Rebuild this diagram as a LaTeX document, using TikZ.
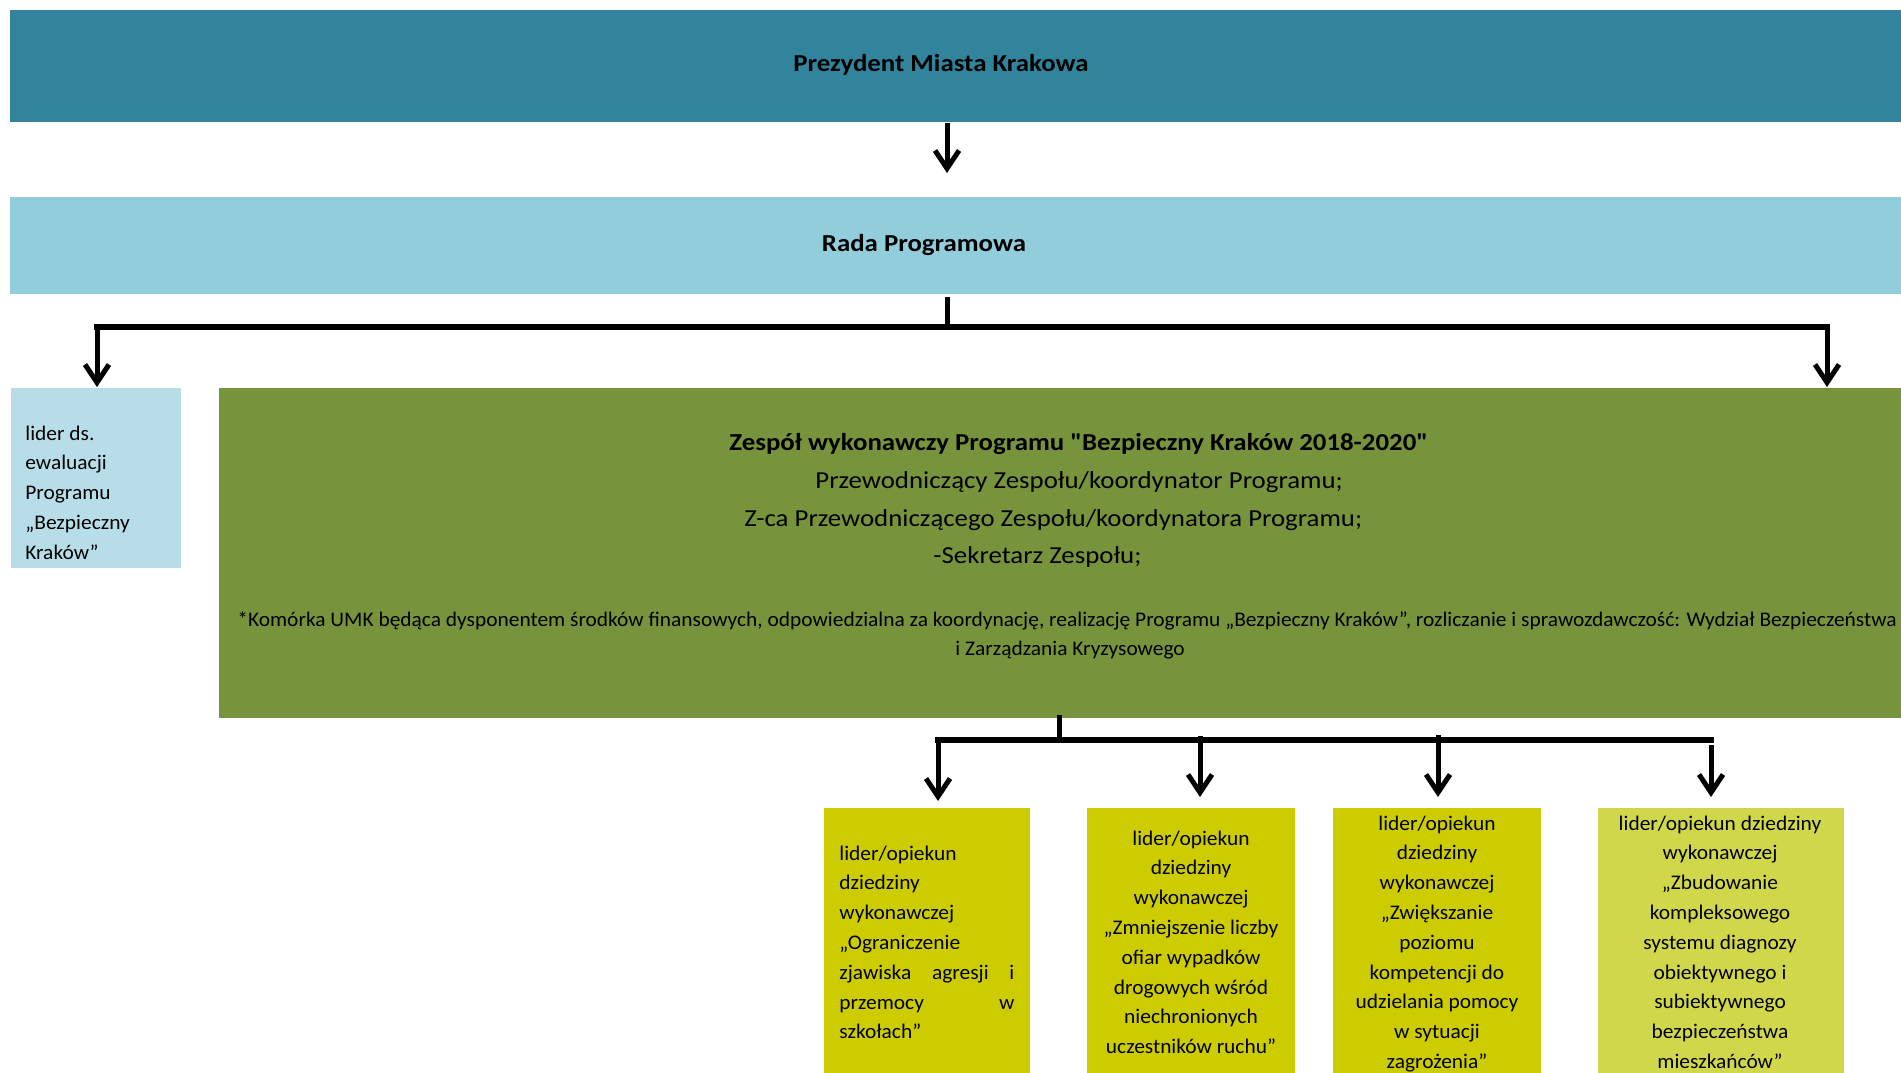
\documentclass[tikz,border=0pt]{standalone}
\usepackage{fontspec}
\setmainfont{Carlito}
\newfontfamily\bigfont[FakeStretch=1.1]{Carlito}
\newfontfamily\smallfont[FakeStretch=1.03]{Carlito}
\usetikzlibrary{arrows.meta}
\definecolor{cTop}{HTML}{31849B}
\definecolor{cRada}{HTML}{92CDDC}
\definecolor{cLider}{HTML}{B7DEE8}
\definecolor{cZesp}{HTML}{77933C}
\definecolor{cYel}{HTML}{CCCC00}
\definecolor{cYel2}{HTML}{D1D74A}
\tikzset{
  boxr/.style={rectangle, draw=none, inner sep=0pt, anchor=north west},
  txt/.style={inner sep=0pt, text=black},
  small/.style={txt, font=\smallfont\fontsize{10.4}{14.9}\selectfont},
  big/.style={txt, font=\bigfont\fontsize{12.2}{18.7}\selectfont},
  bigb/.style={txt, font=\bigfont\fontsize{12.2}{18.7}\selectfont\bfseries},
  ln/.style={line width=2.5pt, draw=black},
  busln/.style={line width=3pt, draw=black, line cap=rect},
  arr/.style={line width=2.5pt, draw=black, -{Straight Barb[length=9pt,width=12pt]}},
}
\newcommand{\boxtext}[2]{\parbox[t]{#1}{\centering #2}}
\begin{document}
\begin{tikzpicture}[x=0.5pt,y=-0.5pt]
\clip (0,0) rectangle (1901,1072);
\path[use as bounding box] (0,0) rectangle (1901,1072);
% boxes
\node[boxr, fill=cTop, minimum width=950pt, minimum height=56pt] (pres) at (10,10) {};
\node[boxr, fill=cRada, minimum width=950pt, minimum height=48.5pt] (rada) at (10,197) {};
\node[boxr, fill=cLider, minimum width=85pt, minimum height=90pt] (lider) at (11,388) {};
\node[boxr, fill=cZesp, minimum width=900pt, minimum height=165pt] (zesp) at (219,388) {};
\node[boxr, fill=cYel, minimum width=103pt, minimum height=140pt] (b1) at (824,808) {};
\node[boxr, fill=cYel, minimum width=104pt, minimum height=140pt] (b2) at (1087,808) {};
\node[boxr, fill=cYel, minimum width=104pt, minimum height=140pt] (b3) at (1333,808) {};
\node[boxr, fill=cYel2, minimum width=123pt, minimum height=140pt] (b4) at (1598,808) {};
% texts
\node[bigb, anchor=base] (tpres) at (941,71) {Prezydent Miasta Krakowa};
\node[bigb, anchor=base] (trada) at (924,251) {Rada Programowa};
\node[small, anchor=base west] (tlider) at (25,440) {\parbox[t]{80pt}{\raggedright lider ds.\\ewaluacji\\Programu\\„Bezpieczny\\Kraków”}};
\node[bigb, anchor=base west] (tz1) at (729,450.7) {Zespół wykonawczy Programu {\char34}Bezpieczny Kraków 2018-2020{\char34}};
\node[big, anchor=base west] (tz2) at (815,488.3) {Przewodniczący Zespołu/koordynator Programu;};
\node[big, anchor=base west] (tz3) at (744,526) {Z-ca Przewodniczącego Zespołu/koordynatora Programu;};
\node[big, anchor=base west] (tz4) at (933,563.3) {-Sekretarz Zespołu;};
\node[small, anchor=base west] (tz5) at (237,626) {*Komórka UMK będąca dysponentem środków finansowych, odpowiedzialna za koordynację, realizację Programu „Bezpieczny Kraków”, rozliczanie i sprawozdawczość: Wydział Bezpieczeństwa};
\node[small, anchor=base west] (tz6) at (955,655) {i Zarządzania Kryzysowego};
\node[small, anchor=base west] (tb1) at (839,860) {\parbox[t]{87.5pt}{lider/opiekun\\dziedziny\\wykonawczej\\„Ograniczenie\\zjawiska\hfill agresji\hfill i\\przemocy\hfill w\\szkołach”}};
\node[small, anchor=base] (tb2) at (1191,845) {\boxtext{104pt}{lider/opiekun\\dziedziny\\wykonawczej\\„Zmniejszenie liczby\\ofiar wypadków\\drogowych wśród\\niechronionych\\uczestników ruchu”}};
\node[small, anchor=base] (tb3) at (1437,830) {\boxtext{104pt}{lider/opiekun\\dziedziny\\wykonawczej\\„Zwiększanie\\poziomu\\kompetencji do\\udzielania pomocy\\w sytuacji\\zagrożenia”}};
\node[small, anchor=base] (tb4) at (1720,830) {\boxtext{123pt}{lider/opiekun dziedziny\\wykonawczej\\„Zbudowanie\\kompleksowego\\systemu diagnozy\\obiektywnego i\\subiektywnego\\bezpieczeństwa\\mieszkańców”}};
% connector coordinates
\coordinate (xm) at (947,0);
\coordinate (busM) at (947,326.5);
\coordinate (busL) at (97,326.5);
\coordinate (busR) at (1827,326.5);
\coordinate (bm) at (1059,740);
\coordinate (c1) at (938,740);
\coordinate (c2) at (1200,736);
\coordinate (c3) at (1438,735);
\coordinate (c4) at (1711,745);
\coordinate (c4b) at (1711,740);
% connectors
\draw[arr, shorten >=12pt] (pres.south -| xm) -- (rada.north -| xm);
\draw[ln] ([yshift=-1pt]rada.south -| xm) -- (busM);
\draw[busln] (busL) -- (busR);
\draw[arr, shorten >=0.5pt] (busL) -- (lider.north -| busL);
\draw[arr, shorten >=0.5pt] (busR) -- (zesp.north -| busR);
\draw[ln] ([yshift=2pt]zesp.south -| bm) -- (bm);
\draw[busln] (c1) -- (c4b);
\draw[arr, shorten >=3.5pt] (c1) -- (b1.north -| c1);
\draw[arr, shorten >=5.5pt] (c2) -- (b2.north -| c2);
\draw[arr, shorten >=5.5pt] (c3) -- (b3.north -| c3);
\draw[arr, shorten >=5.5pt] (c4) -- (b4.north -| c4);
\end{tikzpicture}
\end{document}
